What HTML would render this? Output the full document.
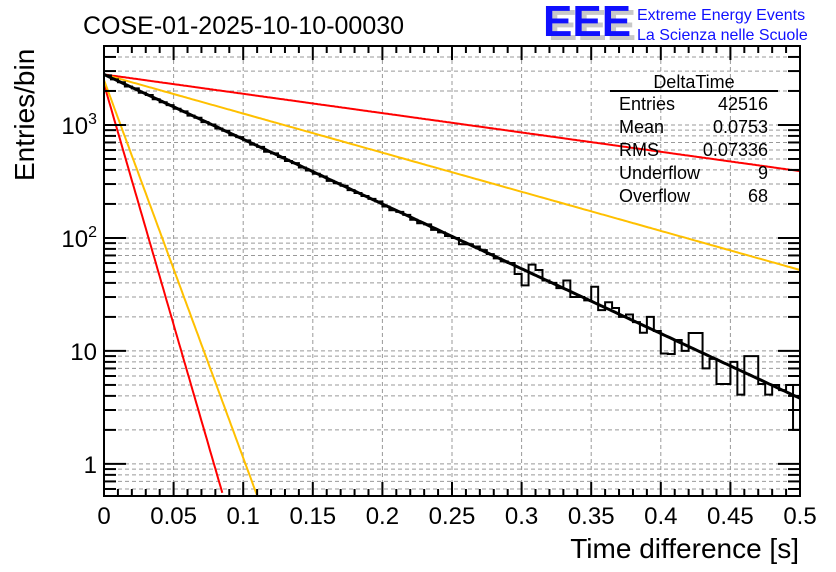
<!DOCTYPE html>
<html><head><meta charset="utf-8"><style>
body{margin:0;background:#fff;}
svg{display:block;font-family:"Liberation Sans",sans-serif;}
</style></head><body>
<svg id="c" width="836" height="572" viewBox="0 0 836 572">
<text x="83" y="34" font-size="25">COSE-01-2025-10-10-00030</text>
<g>
<text x="548" y="40" font-size="44" fill="#c8c8c8" font-weight="bold">EEE</text>
<text x="543" y="36" font-size="44" fill="#1010ff" font-weight="bold">EEE</text>
<text x="637" y="20" font-size="16" fill="#1010ff">Extreme Energy Events</text>
<text x="637" y="40" font-size="16" fill="#1010ff">La Scienza nelle Scuole</text>
</g>
<g id="grid"></g>
<g id="marks"></g>
<rect x="104" y="46" width="696" height="450" fill="none" stroke="#000" stroke-width="2"/>
<g id="ticks"></g>
<g font-size="18">
<text x="694" y="88" text-anchor="middle">DeltaTime</text>
<line x1="610" y1="91" x2="778" y2="91" stroke="#000" stroke-width="2"/>
<text x="619" y="110">Entries</text><text x="768" y="110" text-anchor="end">42516</text>
<text x="619" y="133">Mean</text><text x="768" y="133" text-anchor="end">0.0753</text>
<text x="619" y="156">RMS</text><text x="768" y="156" text-anchor="end">0.07336</text>
<text x="619" y="179">Underflow</text><text x="768" y="179" text-anchor="end">9</text>
<text x="619" y="202">Overflow</text><text x="768" y="202" text-anchor="end">68</text>
</g>
<text x="799" y="558" font-size="28" text-anchor="end">Time difference [s]</text>
<text transform="translate(34,181) rotate(-90)" font-size="28">Entries/bin</text>
</svg>
<script>
const binEdgesStart = 0, binWidth = 0.005;
const counts = [2750,2530,2390,2190,2110,1930,1840,1690,1590,1500,1390,1320,1210,1160,1060,1010,930,890,810,780,730,670,640,580,560,520,480,460,420,395,370,350,320,305,290,265,250,235,222,210,190,176,170,160,145,135,132,118,112,104,100,88,88,84,78,72,66,62,60,48,38,58,52,42,40,36,42,30,30,28,37,23,27,24,20,21,18,14.5,20,15,9.5,9.4,12.5,10,14.4,14.4,7,8.5,5.1,5.1,8,4.1,9,9,5.1,4.1,5,4.5,5,2];
const fitParams = [2800, 13.2];
const bandLines = [
  {A:2800,k:3.94,color:'#ff0000',name:'red-band-upper'},
  {A:2800,k:7.97,color:'#ffc000',name:'orange-band-upper'},
  {A:2300,k:98,color:'#ff0000',name:'red-band-lower'},
  {A:2500,k:77,color:'#ffc000',name:'orange-band-lower'}
];
const xTicks = [0,0.05,0.1,0.15,0.2,0.25,0.3,0.35,0.4,0.45,0.5];
const xTickLabels = ['0','0.05','0.1','0.15','0.2','0.25','0.3','0.35','0.4','0.45','0.5'];
const yTicks = [1,10,100,1000];
const yTickLabels = ['1','10','10<tspan dy="-10" font-size="16">2</tspan>','10<tspan dy="-10" font-size="16">3</tspan>'];

const X0=104,X1=800,Y0=496,Y1=46,LMIN=Math.log10(0.52),LMAX=Math.log10(5000);
const sx=v=>X0+(v-0)/(0.5)*(X1-X0);
const sy=v=>Y0-(Math.log10(v)-LMIN)/(LMAX-LMIN)*(Y0-Y1);
const NS='http://www.w3.org/2000/svg';
function mk(tag,attrs,parent){const e=document.createElementNS(NS,tag);for(const k in attrs)e.setAttribute(k,attrs[k]);parent.appendChild(e);return e;}
const grid=document.getElementById('grid'),marks=document.getElementById('marks'),ticks=document.getElementById('ticks');
xTicks.forEach((t,i)=>{if(i==0||i==xTicks.length-1)return;const l=mk('line',{x1:sx(t),x2:sx(t),y1:Y1,y2:Y0,stroke:'#999','stroke-dasharray':'4,3'},grid);

});
for(let d=-1;d<4;d++)for(let m=1;m<10;m++){const v=m*Math.pow(10,d);if(v<0.52||v>5000)continue;const y=sy(v);
const l=mk('line',{x1:X0,x2:X1,y1:y,y2:y,stroke:'#999','stroke-dasharray':'4,3'},grid);


const t1=mk('line',{x1:X0,x2:X0+(m==1?22:12),y1:y,y2:y,stroke:'#000','stroke-width':2},ticks);


const t2=mk('line',{x1:X1,x2:X1-(m==1?22:12),y1:y,y2:y,stroke:'#000','stroke-width':2},ticks);

}
for(let i=0;i<=50;i++){const v=i*0.01;const x=sx(v);const big=i%5==0;
const t=mk('line',{x1:x,x2:x,y1:Y0,y2:Y0-(big?14:7),stroke:'#000','stroke-width':2},ticks);


const t2=mk('line',{x1:x,x2:x,y1:Y1,y2:Y1+(big?14:7),stroke:'#000','stroke-width':2},ticks);

}
xTicks.forEach((t,i)=>{const e=mk('text',{x:sx(t),y:524,'font-size':24,'text-anchor':'middle'},ticks);e.textContent=xTickLabels[i];

});
yTicks.forEach((t,i)=>{const e=mk('text',{x:97,y:sy(t)+9,'font-size':24,'text-anchor':'end'},ticks);e.innerHTML=yTickLabels[i];

});
bandLines.forEach(b=>{let p='';for(let i=0;i<=400;i++){const x=i*0.5/400;const v=b.A*Math.exp(-b.k*x);if(v<0.52)break;p+=(i?'L':'M')+sx(x).toFixed(1)+','+sy(v).toFixed(1);}
const e=mk('path',{d:p,fill:'none',stroke:b.color,'stroke-width':2},marks);

});
let hp='';counts.forEach((c,i)=>{const xa=sx(binEdgesStart+i*binWidth),xb=sx(binEdgesStart+(i+1)*binWidth),y=sy(c);hp+=(i?'L':'M'+xa+','+Y0+'L')+xa+','+y+'L'+xb+','+y;});
hp+='L'+X1+','+Y0;
const h=mk('path',{d:hp,fill:'none',stroke:'#000','stroke-width':2},marks);


let fp='';for(let i=0;i<=300;i++){const x=i*0.5/300;fp+=(i?'L':'M')+sx(x).toFixed(1)+','+sy(fitParams[0]*Math.exp(-fitParams[1]*x)).toFixed(1);}
const f=mk('path',{d:fp,fill:'none',stroke:'#000','stroke-width':3},marks);


</script>
</body></html>
